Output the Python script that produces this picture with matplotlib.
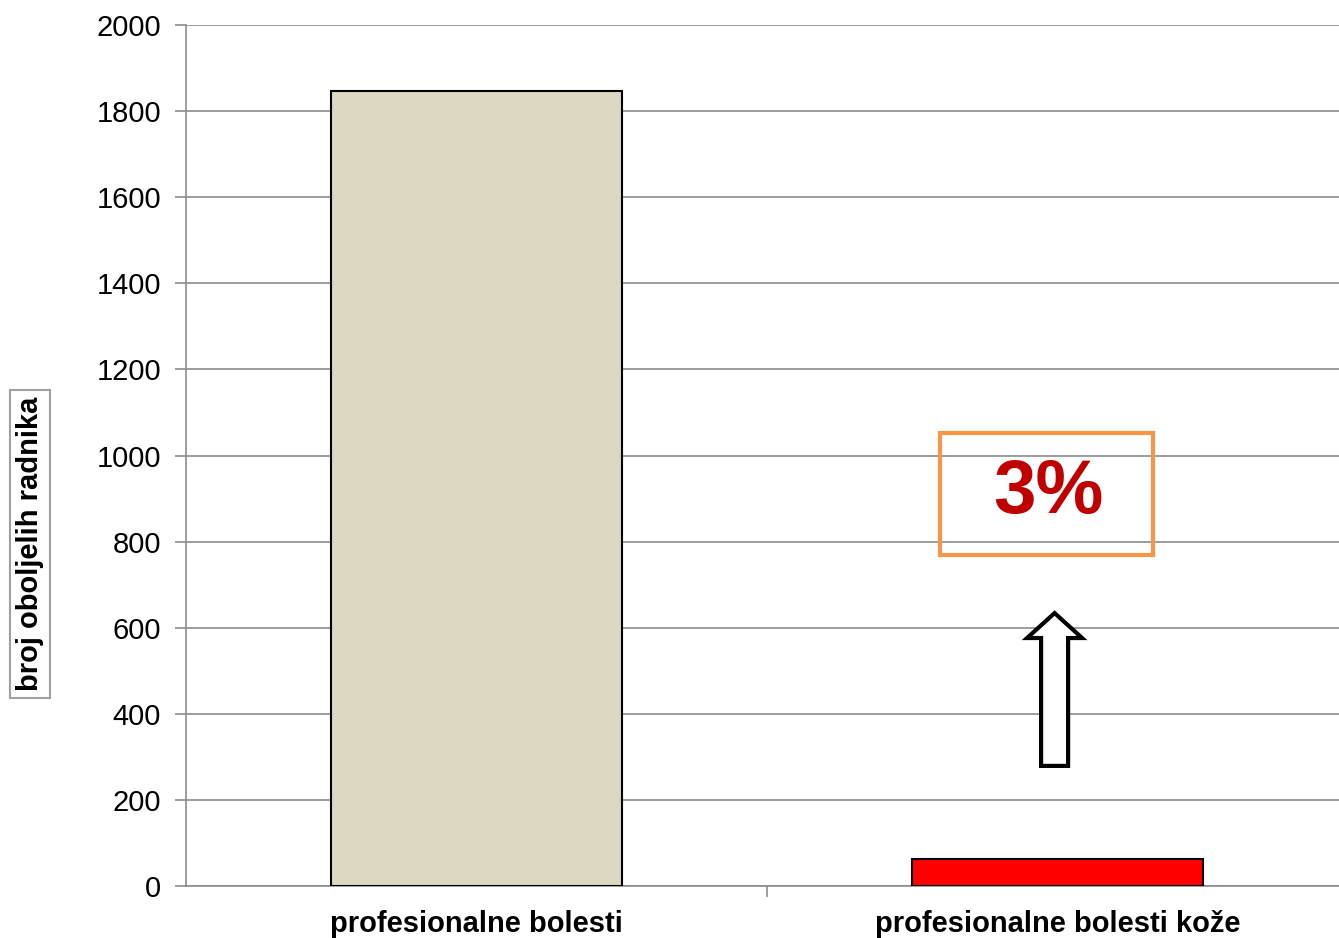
import matplotlib
matplotlib.use("Agg")
import matplotlib.pyplot as plt
from matplotlib.patches import Rectangle, FancyArrow

categories = ["profesionalne bolesti", "profesionalne bolesti kože"]
values = [1847, 62]
bar_colors = ["#DDD8C2", "#FF0000"]
yticks = [0, 200, 400, 600, 800, 1000, 1200, 1400, 1600, 1800, 2000]
ylabel = "broj oboljelih radnika"
note = "3%"

plt.rcParams['font.family'] = ['Liberation Sans', 'DejaVu Sans']

W, H = 1339, 938
fig = plt.figure(figsize=(W/100, H/100), dpi=100)
ax = fig.add_axes([186/W, 1-886/H, (1348-186)/W, (886-25)/H])

x = list(range(len(categories)))
ax.bar(x, values, width=0.5, color=bar_colors, edgecolor="black", linewidth=1.5, zorder=3)

ax.set_xlim(-0.5, 1.5)
ax.set_ylim(0, 2000)
ax.set_yticks(yticks)
ax.set_yticklabels([str(t) for t in yticks], fontsize=21)
ax.yaxis.grid(True, color="#8C8C8C", linewidth=1.2, zorder=0)
ax.set_axisbelow(True)

ax.set_xticks(x)
ax.set_xticklabels(categories, fontsize=21, fontweight="bold")
ax.tick_params(axis="x", length=0, pad=17)
ax.tick_params(axis="y", length=8, color="#8C8C8C", width=1.2, pad=10)
ax.set_xticks([0.5], minor=True)
ax.tick_params(axis="x", which="minor", length=8, color="#8C8C8C", width=1.2)

for s in ["top", "right"]:
    ax.spines[s].set_visible(False)
for s in ["left", "bottom"]:
    ax.spines[s].set_color("#8C8C8C")
    ax.spines[s].set_linewidth(1.2)

fig.text(30/W, 1-544/H, ylabel, rotation=90, fontsize=21, fontweight="bold",
         ha="center", va="center",
         bbox=dict(boxstyle="square,pad=0.22", facecolor="white", edgecolor="#A0A0A0", linewidth=1.5))

# arrow
arr = FancyArrow(0.995, 279, 0, 355, width=0.0465, head_width=0.0947, head_length=58,
                 length_includes_head=True, facecolor="white", edgecolor="black",
                 linewidth=3, zorder=4)
ax.add_patch(arr)

# 3% box
fig.text(1048/W, 1-494/H, note, fontsize=55, fontweight="bold", color="#C00000",
         ha="center", va="center")
fig.patches.append(Rectangle((940/W, 1-555/H), (1153-940)/W, (555-433)/H,
                             transform=fig.transFigure, facecolor="none",
                             edgecolor="#F79646", linewidth=3))

fig.savefig("out.png", dpi=100)
